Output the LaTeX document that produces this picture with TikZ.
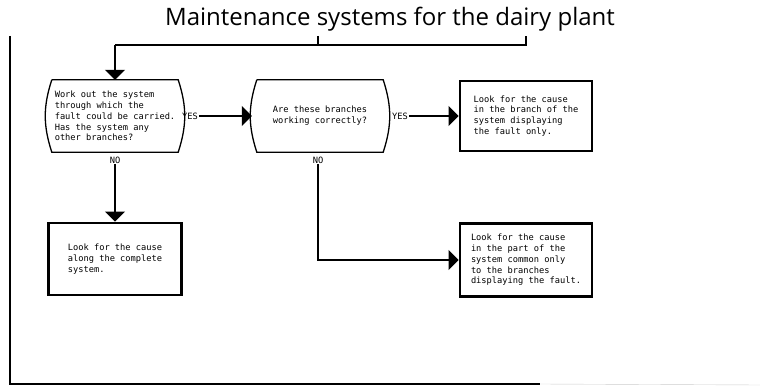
\documentclass[tikz,border=0pt]{standalone}
\usepackage{fontspec}
\newfontfamily\titlefont{Open Sans}
\newfontfamily\monofont{DejaVu Sans Mono}
\usepackage{tikz}
\usetikzlibrary{calc}
\usetikzlibrary{arrows.meta}
\newcommand{\boxfont}{\monofont\fontsize{8.7}{10.8}\selectfont}
\tikzset{
 wire/.style={black, line width=1.1pt},
 flow/.style={wire, -{Triangle[length=10pt,width=20pt]}},
 curvebox/.style={minimum width=136, minimum height=72, inner sep=0, align=left, font=\boxfont},
 plainbox/.style={draw, line width=2.8pt, minimum width=132, minimum height=72, inner sep=0, align=left, font=\boxfont},
 tag/.style={inner sep=1pt, font=\boxfont}
}

\begin{document}
\begin{tikzpicture}[x=1pt, y=-1pt]
\useasboundingbox (0,0) rectangle (760,387);

\node[font=\titlefont\fontsize{24}{28}\selectfont] (title) at (390,19) {Maintenance systems for the dairy plant};

% boxes
\node[curvebox] (b1) at (115,116) {Work out the system\\through which the\\fault could be carried.\\Has the system any\\other branches?};
\node[curvebox] (b2) at (320,116) {Are these branches\\working correctly?};
\node[plainbox, minimum height=70] (b3) at (526,116) {Look for the cause\\in the branch of the\\system displaying\\the fault only.};
\node[plainbox, minimum width=133] (b4) at (115,259) {Look for the cause\\along the complete\\system.};
\node[plainbox, minimum height=73] (b5) at (526,260) {Look for the cause\\in the part of the\\system common only\\to the branches\\displaying the fault.};

\foreach \b in {b1,b2} {
 \draw[line width=1.3pt] ($(\b.north west)+(5,0)$) -- ($(\b.north east)+(-5,0)$) to[bend left=18] ($(\b.south east)+(-5,0)$) -- ($(\b.south west)+(5,0)$) to[bend left=18] ($(\b.north west)+(5,0)$);
}

% labels
\node[tag] (yes1) at (190,116) {YES};
\node[tag] (yes2) at (400,116) {YES};
\node[tag] (no1) at (115,160) {NO};
\node[tag] (no2) at (318,160) {NO};

% connectors
\coordinate (tl) at (115,45);
\coordinate (tm) at (318,36);
\coordinate (tr) at (526,36);
\draw[wire] (tl) -- (tr |- tl) -- (tr);
\draw[wire] (tm) -- (tm |- tl);
\draw[flow] (tl) -- (b1);
\draw[flow] (yes1) -- (b2);
\draw[flow] (yes2) -- (b3);
\draw[flow] (no1) -- (b4);
\draw[flow] (no2) |- (b5);

% frame
\draw[wire] (10,36) -- (10,384) -- (540,384);
\draw[gray!40] (540,384) -- (760,385);
\end{tikzpicture}
\end{document}
